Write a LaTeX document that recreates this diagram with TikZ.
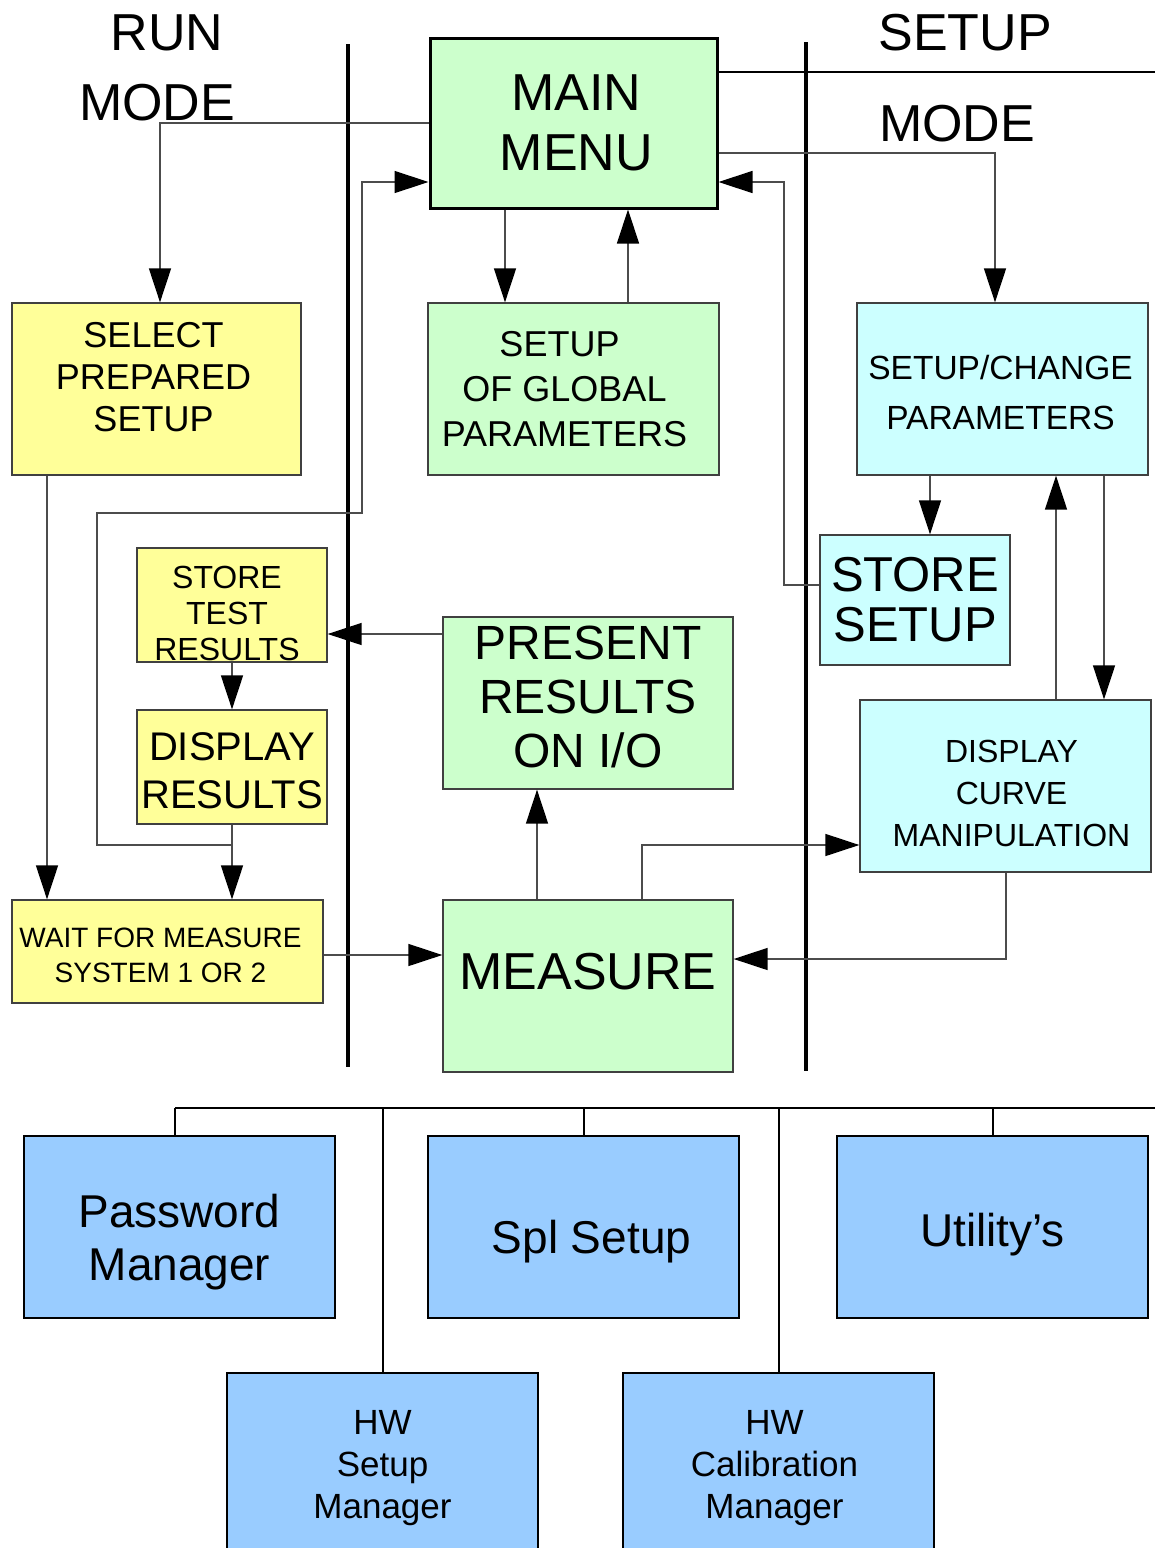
\documentclass[tikz,border=0pt]{standalone}
\usepackage{fontspec}
\setmainfont{Liberation Sans}
\usetikzlibrary{arrows.meta}

\definecolor{runyellow}{HTML}{FFFF99}
\definecolor{menugreen}{HTML}{CCFFCC}
\definecolor{setupcyan}{HTML}{CCFFFF}
\definecolor{toolblue}{HTML}{99CCFF}
\newcommand{\fsz}[2]{\fontsize{#1}{#2}\selectfont}

\begin{document}
\begin{tikzpicture}[x=1pt,y=-1pt,
  >={Triangle[length=34pt,width=22pt,color=black]},
  box/.style={rectangle,draw=gray!50!black,line width=1.3pt,
    inner sep=0pt,align=center},
  run box/.style={box,fill=runyellow},
  menu box/.style={box,fill=menugreen},
  setup box/.style={box,fill=setupcyan},
  tool box/.style={box,fill=toolblue,draw=black,line width=2.5pt,
    minimum width=311,minimum height=182},
  every label/.style={align=center,inner sep=0pt},
  link/.style={draw=gray!60!black,line width=1.4pt},
  divider/.style={draw=black,line width=4pt},
  tree/.style={draw=black,line width=2pt},
  title/.style={font=\fsz{52}{60}}]

  \useasboundingbox (0,0) rectangle (1155,1548);

  % mode headings and dividers
  \node[title] (runA) at (167,33)  {RUN};
  \node[title] (runB) at (157,103) {MODE};
  \node[title] (setA) at (965,33)  {SETUP};
  \node[title] (setB) at (957,124) {MODE};
  \draw[divider] (348,44) -- (348,1067);
  \draw[divider] (806,42) -- (806,1071);
  \draw[tree] (713,72) -- (1155,72);

  % main flow
  \node[menu box,draw=black,line width=3pt,minimum width=287,minimum height=170,
        label={[font=\fsz{52}{60},xshift=3pt]center:MAIN\\MENU}]
        (menu) at (573.5,123) {};
  \node[run box,minimum width=289,minimum height=172,
        label={[font=\fsz{36}{42},xshift=-3pt,yshift=12pt]center:SELECT\\PREPARED\\SETUP}]
        (select) at (156.5,389) {};
  \node[menu box,minimum width=291,minimum height=172,
        label={[font=\fsz{36}{45},xshift=-9pt]center:SETUP\ \ \\OF GLOBAL\\PARAMETERS}]
        (global) at (573.5,389) {};
  \node[setup box,minimum width=291,minimum height=172,
        label={[font=\fsz{33.5}{50},xshift=-2pt,yshift=-4pt]center:SETUP/CHANGE\\PARAMETERS}]
        (change) at (1002.5,389) {};
  \node[setup box,minimum width=190,minimum height=130,
        label={[font=\fsz{49}{50}]center:STORE\\SETUP}]
        (storesetup) at (915,600) {};
  \node[run box,minimum width=190,minimum height=114,
        label={[font=\fsz{32}{36},xshift=-5pt,yshift=-8pt]center:STORE\\TEST\\RESULTS}]
        (storetest) at (232,605) {};
  \node[run box,minimum width=190,minimum height=114,
        label={[font=\fsz{40}{48},yshift=-4pt]center:DISPLAY\\RESULTS}]
        (dispres) at (232,767) {};
  \node[menu box,minimum width=290,minimum height=172,
        label={[font=\fsz{48}{54},yshift=6pt]center:PRESENT\\RESULTS\\ON I/O}]
        (present) at (588,703) {};
  \node[setup box,minimum width=291,minimum height=172,
        label={[font=\fsz{32}{42},xshift=6pt,yshift=-7pt]center:DISPLAY\\CURVE\\MANIPULATION}]
        (curve) at (1005.5,786) {};
  \node[run box,minimum width=311,minimum height=103,
        label={[font=\fsz{28}{35},xshift=-7pt,yshift=-4pt]center:WAIT FOR MEASURE\\SYSTEM 1 OR 2}]
        (wait) at (167.5,951.5) {};
  \node[menu box,minimum width=290,minimum height=172,
        label={[font=\fsz{52}{56},yshift=14pt]center:MEASURE}]
        (measure) at (588,986) {};

  \coordinate (loopfoot) at (232,845);

  \path[link]
    (menu.south -| 505,0) edge[->] (global.north -| 505,0)
    (global.north -| 628,0) edge[->] (menu.south -| 628,0)
    (change.south -| 930,0) edge[->] (storesetup.north -| 930,0)
    (curve.north -| 1056,0) edge[->] (change.south -| 1056,0)
    (change.south -| 1104,0) edge[->] (curve.north -| 1104,0)
    (present.west |- 0,634) edge[->] (storetest.east |- 0,634)
    (storetest) edge[->] (dispres)
    (dispres) edge[->] (wait.north -| dispres)
    (select.south -| 47,0) edge[->] (wait.north -| 47,0)
    (wait.east |- 0,955) edge[->] (measure.west |- 0,955)
    (measure.north -| 537,0) edge[->] (present.south -| 537,0);

  \draw[link,->] (menu.west) -| (select.north -| 160,0);
  \draw[link,->] (menu.east |- 0,153) -| (change.north -| 995,0);
  \draw[link,->] (storesetup.west |- 0,585) -| (784,182) -- (menu.east |- 0,182);
  \draw[link,->] (loopfoot) -| (97,513) -| (362,182) -- (menu.west |- 0,182);
  \draw[link,->] (measure.north -| 642,0) |- (curve.west |- 0,845);
  \draw[link,->] (curve.south -| 1006,0) |- (measure.east |- 0,959);

  % tools
  \node[tool box,label={[font=\fsz{46}{53},yshift=-15pt]center:Password\\Manager}]
        (password) at (179.5,1227) {};
  \node[tool box,label={[font=\fsz{46}{53},xshift=8pt,yshift=-15pt]center:Spl Setup}]
        (spl) at (583.5,1227) {};
  \node[tool box,label={[font=\fsz{46}{53},yshift=-8pt]center:Utility’s}]
        (util) at (992.5,1227) {};
  \node[tool box,label={[font=\fsz{35}{42},yshift=-4pt]center:HW\\Setup\\Manager}]
        (hwsetup) at (382.5,1464) {};
  \node[tool box,label={[font=\fsz{35}{42},xshift=-4pt,yshift=-4pt]center:HW\\Calibration\\Manager}]
        (hwcal) at (778.5,1464) {};

  \coordinate (busL) at (175,1108);
  \coordinate (busR) at (1155,1108);
  \draw[tree] (busL) -- (busR);
  \draw[tree] (password.north -| busL) -- (busL);
  \foreach \t in {spl,util,hwsetup,hwcal}
    \draw[tree] (\t.north) -- (\t.north |- busL);

\end{tikzpicture}
\end{document}
